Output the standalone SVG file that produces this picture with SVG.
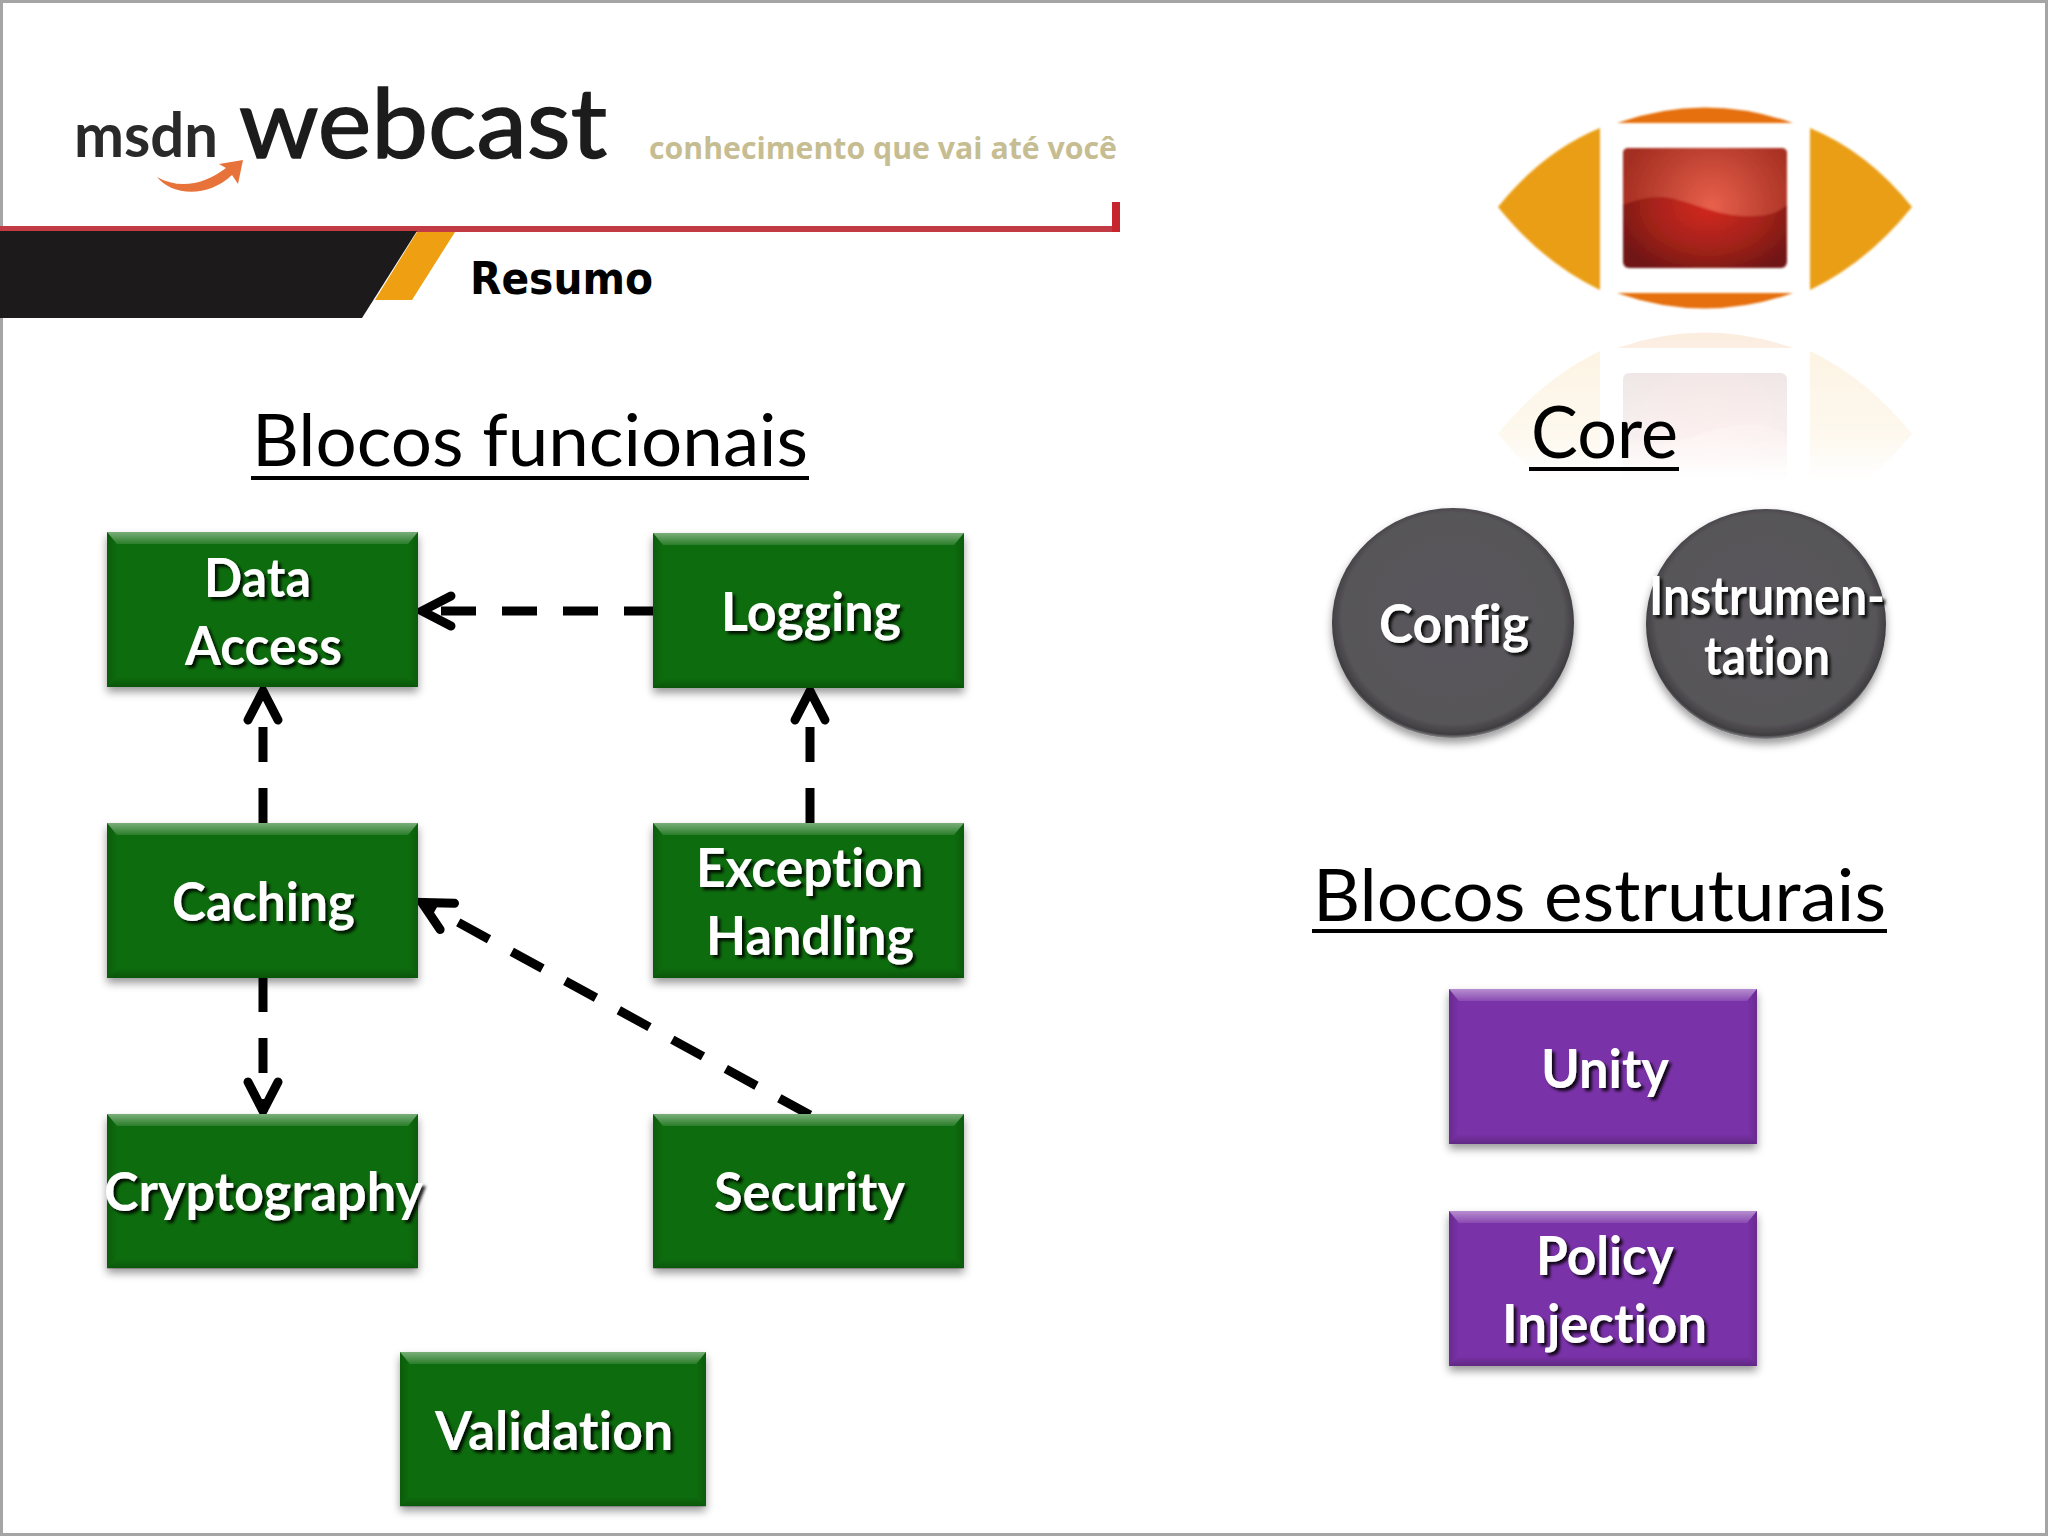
<svg xmlns="http://www.w3.org/2000/svg" width="2048" height="1536" viewBox="0 0 2048 1536">
<style>
text{font-variant-ligatures:none}
.h{font-family:"Lato","Liberation Sans",sans-serif;font-size:72px;fill:#000}
.l{font-family:"Lato","Liberation Sans",sans-serif;font-size:54px;font-weight:700;fill:#fff;filter:url(#ts)}
.ul{fill:#000}
.green{fill:#0a6c0a}
.purple{fill:#7a31a8}
.dash{fill:none;stroke:#000;stroke-width:9;stroke-dasharray:35 26;marker-end:url(#open)}
</style>
<defs>
<filter id="ts" x="-10%" y="-20%" width="125%" height="150%"><feDropShadow dx="3" dy="3" stdDeviation="1.5" flood-color="#000" flood-opacity=".85"/></filter>
<filter id="bs" x="-5%" y="-5%" width="110%" height="115%"><feDropShadow dx="0" dy="5" stdDeviation="4" flood-color="#000" flood-opacity=".4"/></filter>
<filter id="soft" x="-5%" y="-5%" width="110%" height="110%"><feGaussianBlur stdDeviation="0.8"/></filter>
<marker id="open" markerUnits="userSpaceOnUse" markerWidth="60" markerHeight="60" refX="46" refY="30" orient="auto" overflow="visible">
<path d="M16 15 L45 30 L16 45" fill="none" stroke="#000" stroke-width="9" stroke-linecap="round" stroke-linejoin="miter"/>
</marker>
<linearGradient id="bt" x1="0" y1="0" x2="0" y2="1"><stop offset="0" stop-color="#fff" stop-opacity=".45"/><stop offset="1" stop-color="#fff" stop-opacity=".12"/></linearGradient>
<linearGradient id="bb" x1="0" y1="0" x2="0" y2="1"><stop offset="0" stop-color="#000" stop-opacity="0"/><stop offset="1" stop-color="#000" stop-opacity=".22"/></linearGradient>
<linearGradient id="bl" x1="0" y1="0" x2="1" y2="0"><stop offset="0" stop-color="#000" stop-opacity=".15"/><stop offset="1" stop-color="#000" stop-opacity="0"/></linearGradient>
<linearGradient id="br" x1="0" y1="0" x2="1" y2="0"><stop offset="0" stop-color="#000" stop-opacity="0"/><stop offset="1" stop-color="#000" stop-opacity=".15"/></linearGradient>
<g id="bevel">
<path d="M0 0H311L301 12H10Z" fill="url(#bt)"/>
<path d="M0 155H311L301 145H10Z" fill="url(#bb)"/>
<path d="M0 0L10 12V145L0 155Z" fill="url(#bl)"/>
<path d="M311 0L301 12V145L311 155Z" fill="url(#br)"/>
</g>
<radialGradient id="disc" cx=".5" cy=".48" r=".52"><stop offset="0" stop-color="#59575b"/><stop offset=".88" stop-color="#575559"/><stop offset=".97" stop-color="#3f3e41"/><stop offset="1" stop-color="#8a898c"/></radialGradient>
<radialGradient id="redg" cx=".52" cy=".48" r=".62"><stop offset="0" stop-color="#d4261c"/><stop offset=".55" stop-color="#a6241a"/><stop offset="1" stop-color="#6f1414"/></radialGradient>
<radialGradient id="glow" gradientUnits="userSpaceOnUse" cx="1712" cy="205" r="95"><stop offset="0" stop-color="#e8604c"/><stop offset=".6" stop-color="#bc4030"/><stop offset="1" stop-color="#a32d20"/></radialGradient>
<linearGradient id="fade" gradientUnits="userSpaceOnUse" x1="0" y1="330" x2="0" y2="480"><stop offset="0" stop-color="#fff" stop-opacity=".13"/><stop offset=".7" stop-color="#fff" stop-opacity=".07"/><stop offset="1" stop-color="#fff" stop-opacity="0"/></linearGradient>
<mask id="refl" maskUnits="userSpaceOnUse" x="1480" y="320" width="450" height="180"><rect x="1480" y="320" width="450" height="180" fill="url(#fade)"/></mask>
<g id="eye">
<path d="M1498 207Q1542 152 1600 128V290Q1542 262 1498 207Z" fill="#ea9e12"/>
<path d="M1912 207Q1868 152 1810 128V290Q1868 262 1912 207Z" fill="#ea9e12"/>
<path d="M1617 123Q1705 92 1793 123Z" fill="#e5700f"/>
<path d="M1617 293Q1705 324 1793 293Z" fill="#e5700f"/>
<rect x="1623" y="148" width="164" height="120" rx="6" fill="url(#redg)"/>
<path d="M1623 205Q1650 194 1670 198C1695 203 1720 218 1755 216Q1775 216 1787 205V153Q1787 148 1781 148H1629Q1623 148 1623 153Z" fill="url(#glow)"/>
</g>
</defs>

<rect width="2048" height="1536" fill="#fff"/>
<rect x="1.5" y="1.5" width="2045" height="1533" fill="none" stroke="#a5a5a5" stroke-width="3"/>

<g id="header">
<rect x="0" y="226" width="1120" height="6" fill="#c23a44"/>
<rect x="1112" y="202" width="8" height="30" fill="#c7252d"/>
<path d="M417 232H455L412 300H375Z" fill="#ee9f12"/>
<path d="M0 231H417L362 318H0Z" fill="#1c1a1b"/>
<text x="74" y="157" font-family="Lato,'Liberation Sans',sans-serif" font-size="62" font-weight="700" fill="#2a2a2a" textLength="144" lengthAdjust="spacingAndGlyphs">msdn</text>
<text x="239" y="158" font-family="Lato,'Liberation Sans',sans-serif" font-size="96" fill="#1c1c1c" stroke="#1c1c1c" stroke-width="1.5" textLength="368" lengthAdjust="spacingAndGlyphs">webcast</text>
<path d="M157 177C180 190 205 184 226 168L219 164L243 160L238 184L232 175C208 198 172 196 157 177Z" fill="#e8733a"/>
<text x="649" y="159" font-family="'Open Sans','Liberation Sans',sans-serif" font-size="30" font-weight="700" fill="#c6bd92" textLength="468" lengthAdjust="spacingAndGlyphs">conhecimento que vai até você</text>
<text x="470" y="294" font-family="'DejaVu Sans','Liberation Sans',sans-serif" font-size="44" font-weight="700" fill="#000" textLength="183" lengthAdjust="spacingAndGlyphs">Resumo</text>
</g>

<g id="logo">
<use href="#eye" filter="url(#soft)"/>
<g mask="url(#refl)"><use href="#eye" transform="translate(0,641) scale(1,-1)"/></g>
</g>

<g id="title-funcionais"><text class="h" x="252" y="466" textLength="556" lengthAdjust="spacingAndGlyphs">Blocos funcionais</text><rect class="ul" x="251" y="476" width="558" height="4"/></g>
<g id="title-core"><text class="h" x="1531" y="458" textLength="147" lengthAdjust="spacingAndGlyphs">Core</text><rect class="ul" x="1529" y="467" width="150" height="4"/></g>
<g id="title-estruturais"><text class="h" x="1313" y="921" textLength="573" lengthAdjust="spacingAndGlyphs">Blocos estruturais</text><rect class="ul" x="1312" y="929" width="575" height="4"/></g>

<g id="connectors">
<path class="dash" d="M653 611H421" stroke-dashoffset="6"/>
<path class="dash" d="M263 823V690"/>
<path class="dash" d="M810 823V690"/>
<path class="dash" d="M263 977V1112"/>
<path class="dash" d="M810 1115L421 902"/>
</g>

<g id="node-data-access"><g filter="url(#bs)"><rect class="green" x="107" y="532" width="311" height="155"/></g><use href="#bevel" x="107" y="532"/>
<text class="l" x="204" y="597" textLength="107" lengthAdjust="spacingAndGlyphs">Data</text><text class="l" x="185" y="665" textLength="157" lengthAdjust="spacingAndGlyphs">Access</text></g>
<g id="node-logging"><g filter="url(#bs)"><rect class="green" x="653" y="533" width="311" height="155"/></g><use href="#bevel" x="653" y="533"/>
<text class="l" x="721" y="631" textLength="180" lengthAdjust="spacingAndGlyphs">Logging</text></g>
<g id="node-caching"><g filter="url(#bs)"><rect class="green" x="107" y="823" width="311" height="155"/></g><use href="#bevel" x="107" y="823"/>
<text class="l" x="172" y="921" textLength="183" lengthAdjust="spacingAndGlyphs">Caching</text></g>
<g id="node-exception-handling"><g filter="url(#bs)"><rect class="green" x="653" y="823" width="311" height="155"/></g><use href="#bevel" x="653" y="823"/>
<text class="l" x="696" y="887" textLength="227" lengthAdjust="spacingAndGlyphs">Exception</text><text class="l" x="706" y="955" textLength="208" lengthAdjust="spacingAndGlyphs">Handling</text></g>
<g id="node-cryptography"><g filter="url(#bs)"><rect class="green" x="107" y="1114" width="311" height="154"/></g><use href="#bevel" x="107" y="1114"/>
<text class="l" x="104" y="1211" textLength="319" lengthAdjust="spacingAndGlyphs">Cryptography</text></g>
<g id="node-security"><g filter="url(#bs)"><rect class="green" x="653" y="1114" width="311" height="154"/></g><use href="#bevel" x="653" y="1114"/>
<text class="l" x="714" y="1211" textLength="191" lengthAdjust="spacingAndGlyphs">Security</text></g>
<g id="node-validation"><g filter="url(#bs)"><rect class="green" x="400" y="1352" width="306" height="154"/></g><use href="#bevel" transform="translate(400,1352) scale(.984,1)"/>
<text class="l" x="435" y="1450" textLength="238" lengthAdjust="spacingAndGlyphs">Validation</text></g>

<g id="node-config"><ellipse cx="1453" cy="623" rx="121" ry="115" fill="url(#disc)" filter="url(#bs)"/>
<text class="l" x="1379" y="643" textLength="150" lengthAdjust="spacingAndGlyphs">Config</text></g>
<g id="node-instrumentation"><ellipse cx="1766" cy="624" rx="120" ry="115" fill="url(#disc)" filter="url(#bs)"/>
<text class="l" x="1649" y="615" textLength="236" lengthAdjust="spacingAndGlyphs">Instrumen-</text><text class="l" x="1704" y="675" textLength="126" lengthAdjust="spacingAndGlyphs">tation</text></g>

<g id="node-unity"><g filter="url(#bs)"><rect class="purple" x="1449" y="989" width="308" height="155"/></g><use href="#bevel" transform="translate(1449,989) scale(.99,1)"/>
<text class="l" x="1541" y="1088" textLength="128" lengthAdjust="spacingAndGlyphs">Unity</text></g>
<g id="node-policy-injection"><g filter="url(#bs)"><rect class="purple" x="1449" y="1211" width="308" height="155"/></g><use href="#bevel" transform="translate(1449,1211) scale(.99,1)"/>
<text class="l" x="1536" y="1275" textLength="138" lengthAdjust="spacingAndGlyphs">Policy</text><text class="l" x="1502" y="1343" textLength="205" lengthAdjust="spacingAndGlyphs">Injection</text></g>
</svg>
